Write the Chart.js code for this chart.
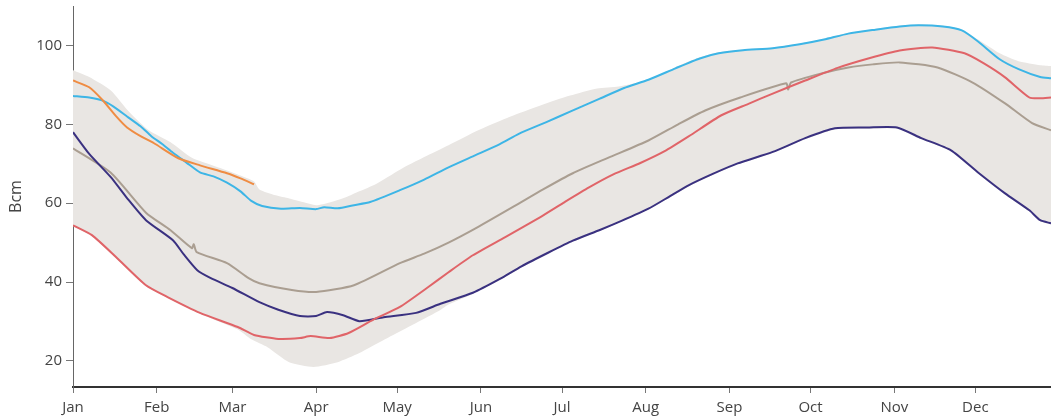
<!DOCTYPE html>
<html lang="en">
<head>
    <meta charset="UTF-8">
    <title>Storage (Bcm)</title>
    <style>
        body {
            margin: 0;
            background: #fff;
        }
        .wrap {
            width: 1051px;
            height: 419px;
            position: relative;
        }
    </style>
</head>
<body>
    <div class="wrap">
        <canvas id="storageChart"></canvas>
    </div>

    <script src="https://cdn.jsdelivr.net/npm/chart.js"></script>
    <script>
        // day of year (0 = 1 Jan) and Bcm values
        const monthLabels = ['Jan', 'Feb', 'Mar', 'Apr', 'May', 'Jun', 'Jul', 'Aug', 'Sep', 'Oct', 'Nov', 'Dec'];
        const monthStarts = [0, 31, 59, 90, 120, 151, 181, 212, 243, 273, 304, 334];
        const yTicks = [20, 40, 60, 80, 100];

        const rangeHighDays = [0, 6, 14, 21, 28, 36, 44, 52, 57, 62, 67, 69, 75, 80, 85, 90, 95, 101, 106, 112, 121, 130, 139, 150, 162, 173, 184, 194, 202, 213, 223, 232, 239, 248, 259, 269, 278, 287, 297, 306, 313, 322, 329, 335, 343, 350, 358, 362];
        const rangeHigh = [93.7, 92, 88.6, 83, 78.5, 75.5, 71.5, 69.5, 68.3, 67, 65.5, 63.5, 62, 61.2, 60.3, 59.5, 60.2, 61.5, 63, 64.8, 68.5, 71.7, 74.7, 78.5, 82, 84.8, 87.3, 89.1, 89.6, 91.3, 94.5, 97, 98.3, 99, 99.5, 100.5, 101.7, 103.2, 104.2, 105, 105.3, 105, 104, 101.5, 98, 96, 95, 94.8];

        const rangeLowDays = [0, 7, 16, 27, 35, 47, 61, 66, 72, 80, 89, 98, 106, 115, 127, 136, 139, 148, 158, 166, 176, 185, 195, 203, 213, 221, 228, 237, 246, 259, 271, 282, 294, 305, 314, 325, 335, 345, 354, 358, 362];
        const rangeLow = [54.2, 51.7, 46, 39, 36, 32, 28, 25.5, 23.5, 19.7, 18.5, 19.7, 22, 25.3, 29.6, 32.9, 34.3, 37, 40.5, 43.7, 47.2, 50.2, 53, 55.3, 58.4, 61.5, 64.3, 67.2, 69.8, 72.7, 76.2, 78.7, 78.9, 78.9, 76.2, 73.1, 67.5, 62.2, 57.9, 55.4, 54.6];

        const blueDays = [0, 6, 11, 15, 20, 25, 29, 33, 37, 42, 47, 52, 57, 62, 66, 70, 77, 84, 90, 93, 98, 104, 110, 121, 130, 139, 149, 158, 165, 175, 184, 195, 204, 213, 223, 232, 239, 248, 259, 269, 278, 287, 297, 306, 313, 322, 329, 335, 343, 350, 358, 362];
        const blueVals = [87.2, 86.8, 86, 84.5, 82, 79.5, 77, 75, 72.8, 70.3, 67.8, 66.8, 65.2, 63, 60.6, 59.3, 58.6, 58.8, 58.5, 59, 58.7, 59.5, 60.3, 63.3, 66, 69.1, 72.2, 75, 77.6, 80.5, 83.2, 86.5, 89.2, 91.3, 94.2, 96.7, 98, 98.8, 99.3, 100.3, 101.5, 103, 104, 104.8, 105.1, 104.8, 103.8, 101, 96.5, 94, 92, 91.7];

        const orangeDays = [0, 6, 11, 16, 20, 25, 30, 39, 47, 57, 62, 67];
        const orangeVals = [91.1, 89.4, 86.1, 82, 79.2, 77, 75.2, 71.4, 69.6, 67.6, 66.3, 64.8];

        const purpleDays = [0, 6, 14, 20, 27, 37, 41, 46, 51, 59, 69, 76, 84, 90, 94, 100, 106, 115, 127, 136, 148, 158, 166, 176, 185, 195, 203, 213, 221, 228, 237, 246, 259, 271, 282, 294, 305, 314, 325, 335, 345, 354, 358, 362];
        const purpleVals = [78, 72.5, 66.6, 61.3, 55.7, 50.6, 47, 43, 41, 38.5, 34.9, 33, 31.4, 31.4, 32.4, 31.6, 30.1, 31.1, 32.2, 34.5, 37.3, 40.8, 44, 47.5, 50.5, 53.2, 55.5, 58.6, 61.8, 64.6, 67.5, 70.1, 73, 76.5, 79, 79.2, 79.2, 76.5, 73.4, 67.8, 62.5, 58.2, 55.7, 54.9];

        const redDays = [0, 7, 16, 27, 35, 47, 61, 67, 76, 84, 88, 95, 102, 111, 121, 131, 139, 148, 160, 173, 182, 191, 200, 210, 219, 228, 240, 250, 259, 271, 283, 295, 306, 318, 330, 337, 345, 354, 358, 362];
        const redVals = [54.4, 51.9, 46.3, 39.2, 36.2, 32.2, 28.6, 26.6, 25.6, 25.8, 26.3, 25.8, 27.1, 30.4, 33.7, 38.5, 42.5, 46.8, 51.4, 56.5, 60.3, 64, 67.3, 70.2, 73.2, 77, 82.3, 85.2, 87.8, 91.1, 94.3, 96.8, 98.7, 99.5, 98, 95.5, 91.9, 86.8, 86.6, 86.8];

        const taupeDays = [0, 14, 27, 36, 44, 44.7, 45.8, 57, 65, 69, 81, 90, 104, 121, 130, 139, 150, 164, 174, 185, 198, 213, 224, 234, 247, 264, 264.7, 265.8, 277, 287, 296, 306, 320, 333, 345, 355, 362];
        const taupeVals = [73.9, 67.7, 57.6, 53.2, 48.6, 49.6, 47.6, 44.8, 41, 39.7, 38, 37.5, 39.2, 44.8, 47.2, 50, 54, 59.5, 63.5, 67.6, 71.5, 75.9, 80, 83.5, 86.8, 90.4, 88.8, 90.6, 92.9, 94.4, 95.2, 95.7, 94.4, 90.6, 85.3, 80.3, 78.5];

        function pts(days, vals) {
            return days.map((d, i) => ({ x: d, y: vals[i] }));
        }

        function lineSet(days, vals, color) {
            return {
                data: pts(days, vals),
                borderColor: color,
                borderWidth: 2,
                pointRadius: 0,
                fill: false,
                tension: 0.2
            };
        }

        const tickFont = { family: "'Liberation Sans Narrow', 'Open Sans', sans-serif", size: 15 };

        const ctx = document.getElementById('storageChart').getContext('2d');
        new Chart(ctx, {
            type: 'line',
            data: {
                datasets: [
                    lineSet(orangeDays, orangeVals, '#ef8c43'),
                    lineSet(blueDays, blueVals, '#3db5e6'),
                    lineSet(redDays, redVals, '#e06468'),
                    lineSet(purpleDays, purpleVals, '#3a3180'),
                    lineSet(taupeDays, taupeVals, '#aa9e91'),
                    {
                        data: pts(rangeHighDays, rangeHigh),
                        borderWidth: 0,
                        pointRadius: 0,
                        backgroundColor: '#e9e6e3',
                        fill: '+1',
                        tension: 0.2
                    },
                    {
                        data: pts(rangeLowDays, rangeLow),
                        borderWidth: 0,
                        pointRadius: 0,
                        fill: false,
                        tension: 0.2
                    }
                ]
            },
            options: {
                responsive: true,
                maintainAspectRatio: false,
                animation: false,
                layout: { padding: { top: 6, right: 0, left: 0, bottom: 0 } },
                plugins: {
                    legend: { display: false },
                    tooltip: { enabled: false },
                    filler: { drawTime: 'beforeDatasetsDraw' }
                },
                scales: {
                    x: {
                        type: 'linear',
                        min: 0,
                        max: 362,
                        afterFit: s => { s.height = 32; s.paddingLeft = 0; s.paddingRight = 0; },
                        afterBuildTicks: s => { s.ticks = monthStarts.map(v => ({ value: v })); },
                        ticks: {
                            autoSkip: false,
                            maxRotation: 0,
                            padding: 6,
                            color: '#444',
                            font: tickFont,
                            callback: v => monthLabels[monthStarts.indexOf(v)]
                        },
                        grid: { drawOnChartArea: false, tickLength: 6, tickColor: '#777' },
                        border: { color: '#333', width: 2 }
                    },
                    y: {
                        min: 13.4,
                        max: 110,
                        // keep the plot top where the reference has it
                        afterFit: s => { s.width = 73; s.paddingTop = 0; s.paddingBottom = 0; },
                        afterBuildTicks: s => { s.ticks = yTicks.map(v => ({ value: v })); },
                        ticks: {
                            padding: 4,
                            color: '#444',
                            font: tickFont
                        },
                        grid: { drawOnChartArea: false, tickLength: 7, tickColor: '#777' },
                        border: { color: '#666', width: 1 },
                        title: {
                            display: true,
                            text: 'Bcm',
                            color: '#444',
                            font: { family: "'Open Sans', sans-serif", size: 16 },
                            padding: { top: 7, bottom: 0 }
                        }
                    }
                }
            }
        });
    </script>
</body>
</html>
